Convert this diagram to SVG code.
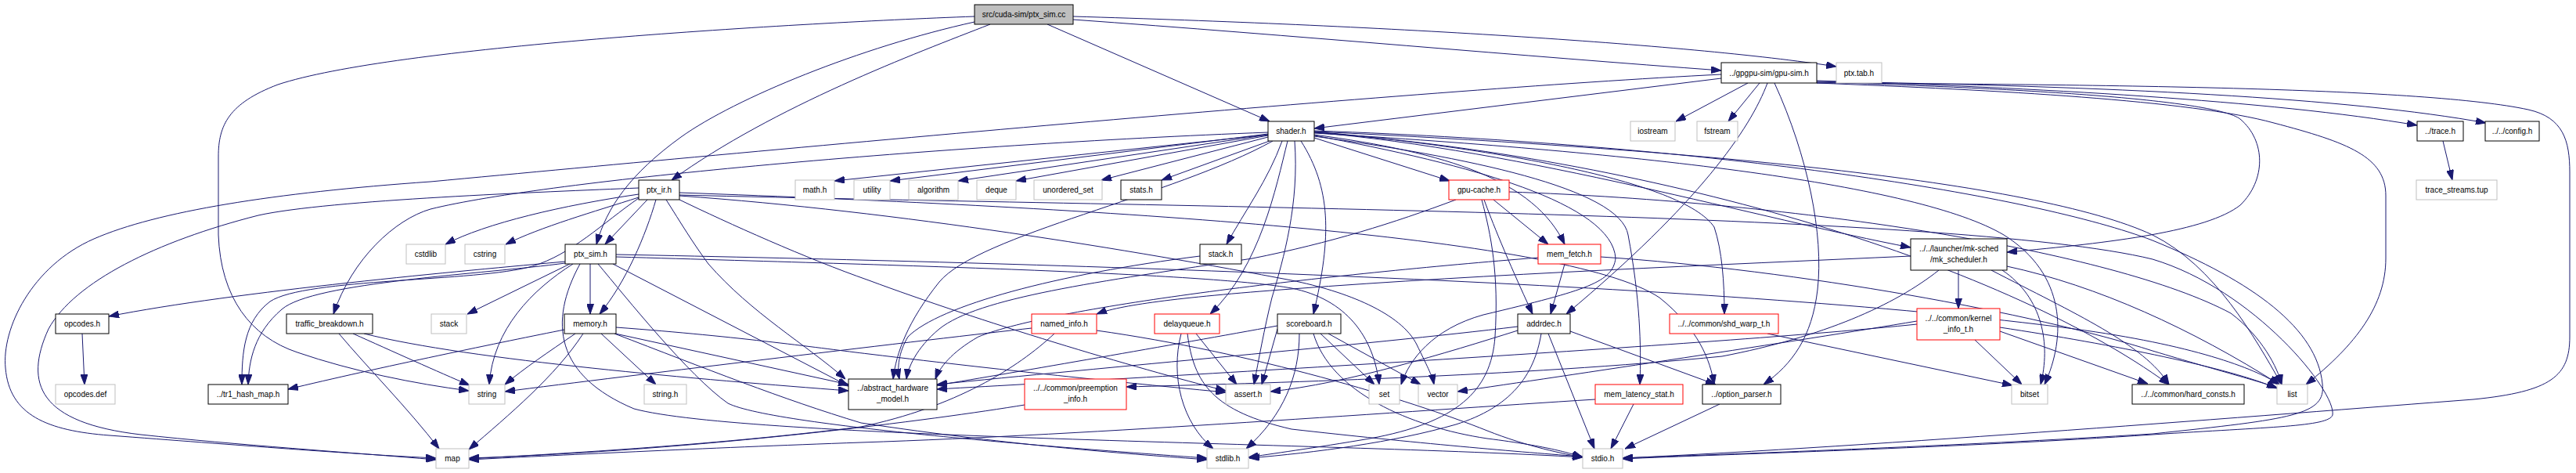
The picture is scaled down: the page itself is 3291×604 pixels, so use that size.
<svg xmlns="http://www.w3.org/2000/svg" width="3291" height="604" viewBox="0 0 3291 604">
<style>
rect{fill:#fff;stroke:#000;stroke-width:1}
.g rect{stroke:#bfbfbf}
.r rect{stroke:#ff0000}
.s rect{fill:#bfbfbf;stroke:#000}
text{font-family:"Liberation Sans",Arial,Helvetica,sans-serif;font-size:10px;text-anchor:middle;fill:#000}
#edges path{fill:none;stroke:#191970;stroke-width:1;marker-end:url(#a)}
</style>
<defs>
<marker id="a" viewBox="0 0 13 9" refX="13" refY="4.5" markerWidth="13" markerHeight="9" markerUnits="userSpaceOnUse" orient="auto"><path d="M0,0L13,4.5L0,9z" fill="#191970" stroke="#191970" stroke-width="1"/></marker>
</defs>
<rect x="0" y="0" width="3291" height="604" style="stroke:none;fill:#fff"/>
<g id="edges">
<path d="M1371,25 C1650,45 1950,72 2199,90"/>
<path d="M1371,21 C1750,32 2150,55 2346,85"/>
<path d="M1338,31 L1622,155"/>
<path d="M1265,31 C1170,68 990,135 858,230"/>
<path d="M1245,28 C1100,60 940,125 870,175 C805,222 775,265 762,312"/>
<path d="M1245,21 C1000,30 500,60 355,108 C292,132 279,160 279,200 L279,300 C282,380 320,430 380,450 C450,474 530,490 599,499"/>
<path d="M2233,106 L2141,155"/>
<path d="M2248,106 L2208,155"/>
<path d="M2199,100 L1679,164"/>
<path d="M2199,95 C1800,115 1000,190 550,232 C350,246 200,270 120,305 C40,340 2,420 7,470 C12,530 60,550 140,556 C300,568 450,580 557,585"/>
<path d="M2258,106 C2236,165 2170,260 2001,401"/>
<path d="M2267,106 C2310,200 2330,300 2322,370 C2315,430 2290,465 2253,491"/>
<path d="M2321,103 C2600,112 2900,128 3088,160"/>
<path d="M2321,104 C2700,110 3000,125 3176,157"/>
<path d="M2321,106 C2550,115 2800,128 2905,157 C3000,182 3048,200 3048,250 L3048,330 C3048,390 3010,440 2946,491"/>
<path d="M2321,105 C2600,113 2830,128 2862,152 C2895,180 2895,230 2862,262 C2820,295 2700,310 2564,322"/>
<path d="M2321,106 C2700,108 3100,112 3230,140 C3275,150 3283,180 3283,220 L3283,430 C3283,480 3260,500 3160,510 C2900,530 2400,570 2073,585"/>
<path d="M3121,180 L3133,230"/>
<path d="M1620,172 L1066,231"/>
<path d="M1620,171 L1137,231"/>
<path d="M1620,172 L1224,231"/>
<path d="M1620,173 L1298,231"/>
<path d="M1620,175 L1407,230"/>
<path d="M1622,180 L1484,230"/>
<path d="M1679,176 L1852,231"/>
<path d="M1638,180 C1620,230 1590,270 1567,312"/>
<path d="M1645,180 C1630,240 1610,340 1546,401"/>
<path d="M1654,180 C1660,260 1640,330 1625,380 C1615,420 1608,460 1602,491"/>
<path d="M1662,180 C1700,240 1702,300 1678,401"/>
<path d="M1626,180 C1500,250 1250,300 1200,360 C1160,410 1145,450 1141,484"/>
<path d="M1679,172 C1850,195 1960,230 1999,312"/>
<path d="M1620,169 C1200,185 700,230 550,267 C505,280 450,330 426,401"/>
<path d="M1679,168 C1900,188 2150,230 2190,290 C2200,320 2203,360 2203,401"/>
<path d="M1679,169 C1950,192 2250,280 2441,316"/>
<path d="M1679,170 C2100,195 2450,235 2560,300 C2640,350 2640,430 2612,491"/>
<path d="M1679,168 C2150,190 2600,230 2750,300 C2830,340 2880,430 2915,491"/>
<path d="M1679,169 C2100,200 2550,330 2771,491"/>
<path d="M1679,167 C2200,185 2600,250 2750,307 C2880,360 2960,420 2967,490 C2972,530 2930,535 2750,554 C2500,570 2200,580 2073,585"/>
<path d="M1679,174 C1870,200 2070,240 2080,300 C2095,380 2097,440 2095,491"/>
<path d="M1679,173 C1880,210 2060,260 2064,330 C2060,360 2030,370 1895,402 C1830,420 1800,460 1790,491"/>
<path d="M816,248 C720,262 620,285 569,312"/>
<path d="M816,252 C760,270 690,290 646,312"/>
<path d="M827,255 L773,312"/>
<path d="M838,255 C825,300 800,360 766,401"/>
<path d="M816,253 C770,285 730,325 680,340 C610,360 390,355 345,385 C312,410 309,450 309,491"/>
<path d="M816,240 C700,245 420,255 330,275 C200,308 95,360 62,420 C30,490 50,540 180,555 C300,568 450,578 557,587"/>
<path d="M851,255 C870,285 885,310 905,337 C960,400 1030,440 1080,484"/>
<path d="M868,255 C930,285 1030,330 1110,358 C1250,410 1450,470 1566,499"/>
<path d="M868,250 C1150,270 1450,320 1650,358 C1720,372 1790,400 1810,440 C1822,465 1830,480 1832,491"/>
<path d="M868,246 C1400,265 2000,300 2120,380 C2170,420 2185,460 2190,491"/>
<path d="M868,249 C1500,265 2500,270 2750,331 C2880,370 2985,500 2980,530 C2975,545 2900,545 2750,555 C2500,572 2200,580 2073,586"/>
<path d="M722,334 C600,345 300,372 139,404"/>
<path d="M722,336 C620,350 400,360 360,395 C325,425 318,460 317,491"/>
<path d="M728,337 L597,401"/>
<path d="M754,337 L754,401"/>
<path d="M732,337 C680,370 630,420 625,491"/>
<path d="M783,337 L1084,493"/>
<path d="M764,337 C800,380 880,480 930,515 C990,545 1400,575 1542,585"/>
<path d="M741,337 C700,412 710,480 810,522 C950,560 1700,565 2022,584"/>
<path d="M787,325 C1300,335 2200,360 2650,420 C2800,440 2880,470 2912,491"/>
<path d="M787,328 C1200,340 1550,350 1650,368 C1720,382 1755,430 1762,491"/>
<path d="M721,421 C650,435 480,470 368,497"/>
<path d="M735,426 C700,450 670,470 645,491"/>
<path d="M745,426 C710,480 650,530 599,574"/>
<path d="M768,426 L838,491"/>
<path d="M786,426 L1084,491"/>
<path d="M787,418 C950,430 1050,445 1110,452 C1300,475 1450,490 1566,501"/>
<path d="M785,426 C900,470 1000,510 1100,540 C1300,570 1450,580 1542,587"/>
<path d="M433,426 C470,470 520,520 561,573"/>
<path d="M451,426 C500,448 560,475 600,492"/>
<path d="M465,426 C600,460 900,485 1084,499"/>
<path d="M105,426 L108,491"/>
<path d="M1533,327 C1350,350 1200,390 1160,430 C1148,450 1146,470 1149,484"/>
<path d="M1318,419 C1200,432 800,480 645,500"/>
<path d="M1347,426 C1300,470 1220,520 1100,545 C900,570 700,580 599,586"/>
<path d="M1401,422 C1600,450 1800,510 1900,550 C1950,570 2000,580 2022,584"/>
<path d="M1528,426 L1580,491"/>
<path d="M1509,426 C1495,480 1510,540 1550,573"/>
<path d="M1517,426 C1525,490 1550,525 1650,548 C1800,565 1950,578 2022,583"/>
<path d="M1687,426 L1756,491"/>
<path d="M1697,426 L1815,491"/>
<path d="M1678,426 C1700,500 1800,545 1900,560 C1980,570 2010,580 2022,584"/>
<path d="M1632,420 L1612,491"/>
<path d="M1660,426 C1660,480 1640,530 1592,573"/>
<path d="M1632,416 C1500,440 1300,475 1197,492"/>
<path d="M1939,417 C1750,440 1400,470 1197,491"/>
<path d="M1939,422 C1850,450 1720,490 1623,500"/>
<path d="M1969,426 C1960,480 1930,520 1860,542 C1780,565 1680,578 1596,585"/>
<path d="M1978,426 L2037,573"/>
<path d="M2006,423 L2192,491"/>
<path d="M1999,337 L1981,401"/>
<path d="M1965,329 C1700,350 1350,390 1250,430 C1215,450 1200,470 1195,484"/>
<path d="M2045,328 C2300,345 2600,400 2750,448 C2840,475 2880,485 2909,495"/>
<path d="M1908,255 L1978,312"/>
<path d="M1896,255 C1905,280 1925,330 1958,401"/>
<path d="M1893,255 C1905,300 1915,350 1910,430 C1905,500 1860,540 1750,560 C1680,572 1620,580 1595,584"/>
<path d="M1860,255 C1780,285 1700,310 1600,330 C1400,360 1250,380 1200,420 C1170,445 1160,470 1158,484"/>
<path d="M1928,245 C2300,258 2700,320 2850,400 C2890,430 2910,470 2915,491"/>
<path d="M2502,345 L2502,394"/>
<path d="M2558,345 C2610,380 2620,440 2607,491"/>
<path d="M2544,345 C2650,400 2740,440 2771,491"/>
<path d="M2564,340 C2680,365 2800,420 2912,491"/>
<path d="M2477,345 C2420,390 2330,430 2200,455 C1950,480 1600,490 1439,494"/>
<path d="M2441,327 C2200,338 1900,350 1650,369 C1500,380 1430,390 1401,401"/>
<path d="M2523,434 L2583,491"/>
<path d="M2555,423 L2744,490"/>
<path d="M2555,418 C2700,440 2850,470 2909,496"/>
<path d="M2449,410 C2300,435 2000,480 1862,500"/>
<path d="M2449,414 C2200,440 1500,480 1197,497"/>
<path d="M2258,426 L2571,492"/>
<path d="M2087,516 L2058,573"/>
<path d="M2038,510 C1800,525 1400,555 1100,565 C900,572 700,582 599,587"/>
<path d="M2197,516 L2076,573"/>
<path d="M1309,517 C1200,535 900,575 599,585"/>
</g>
<g id="n_src" class="s"><rect x="1245" y="6" width="126" height="25"/><text x="1308" y="22">src/cuda-sim/ptx_sim.cc</text></g>
<g id="n_gpusim"><rect x="2199" y="80" width="122" height="26"/><text x="2260" y="96.5">../gpgpu-sim/gpu-sim.h</text></g>
<g id="n_ptxtab" class="g"><rect x="2346" y="80" width="58" height="26"/><text x="2375" y="96.5">ptx.tab.h</text></g>
<g id="n_shader"><rect x="1620" y="155" width="59" height="25"/><text x="1649.5" y="171">shader.h</text></g>
<g id="n_iostream" class="g"><rect x="2083" y="155" width="57" height="25"/><text x="2111.5" y="171">iostream</text></g>
<g id="n_fstream" class="g"><rect x="2168" y="155" width="52" height="25"/><text x="2194" y="171">fstream</text></g>
<g id="n_trace"><rect x="3088" y="155" width="59" height="25"/><text x="3117.5" y="171">../trace.h</text></g>
<g id="n_config"><rect x="3175" y="155" width="69" height="25"/><text x="3209.5" y="171">../../config.h</text></g>
<g id="n_ptxir"><rect x="816" y="230" width="52" height="25"/><text x="842" y="246">ptx_ir.h</text></g>
<g id="n_math" class="g"><rect x="1016" y="230" width="50" height="25"/><text x="1041" y="246">math.h</text></g>
<g id="n_utility" class="g"><rect x="1091" y="230" width="46" height="25"/><text x="1114" y="246">utility</text></g>
<g id="n_algorithm" class="g"><rect x="1161" y="230" width="63" height="25"/><text x="1192.5" y="246">algorithm</text></g>
<g id="n_deque" class="g"><rect x="1248" y="230" width="50" height="25"/><text x="1273" y="246">deque</text></g>
<g id="n_unordered" class="g"><rect x="1321" y="230" width="87" height="25"/><text x="1364.5" y="246">unordered_set</text></g>
<g id="n_stats"><rect x="1432" y="230" width="52" height="25"/><text x="1458" y="246">stats.h</text></g>
<g id="n_gpucache" class="r"><rect x="1851" y="230" width="77" height="25"/><text x="1889.5" y="246">gpu-cache.h</text></g>
<g id="n_tracestreams" class="g"><rect x="3087" y="230" width="103" height="25"/><text x="3138.5" y="246">trace_streams.tup</text></g>
<g id="n_cstdlib" class="g"><rect x="519" y="312" width="50" height="25"/><text x="544" y="328">cstdlib</text></g>
<g id="n_cstring" class="g"><rect x="594" y="312" width="51" height="25"/><text x="619.5" y="328">cstring</text></g>
<g id="n_ptxsimh"><rect x="722" y="312" width="65" height="25"/><text x="754.5" y="328">ptx_sim.h</text></g>
<g id="n_stackh"><rect x="1533" y="312" width="53" height="25"/><text x="1559.5" y="328">stack.h</text></g>
<g id="n_memfetch" class="r"><rect x="1965" y="312" width="80" height="25"/><text x="2005" y="328">mem_fetch.h</text></g>
<g id="n_mksched"><rect x="2441" y="305" width="123" height="40"/><text x="2502.5" y="321">../../launcher/mk-sched</text><text x="2502.5" y="335">/mk_scheduler.h</text></g>
<g id="n_opcodes"><rect x="71" y="401" width="68" height="25"/><text x="105" y="417">opcodes.h</text></g>
<g id="n_traffic"><rect x="366" y="401" width="110" height="25"/><text x="421" y="417">traffic_breakdown.h</text></g>
<g id="n_stack" class="g"><rect x="551" y="401" width="45" height="25"/><text x="573.5" y="417">stack</text></g>
<g id="n_memory"><rect x="721" y="401" width="66" height="25"/><text x="754" y="417">memory.h</text></g>
<g id="n_named" class="r"><rect x="1318" y="401" width="83" height="25"/><text x="1359.5" y="417">named_info.h</text></g>
<g id="n_delay" class="r"><rect x="1475" y="401" width="83" height="25"/><text x="1516.5" y="417">delayqueue.h</text></g>
<g id="n_scoreboard"><rect x="1632" y="401" width="81" height="25"/><text x="1672.5" y="417">scoreboard.h</text></g>
<g id="n_addrdec"><rect x="1939" y="401" width="67" height="25"/><text x="1972.5" y="417">addrdec.h</text></g>
<g id="n_shdwarp" class="r"><rect x="2133" y="401" width="139" height="25"/><text x="2202.5" y="417">../../common/shd_warp_t.h</text></g>
<g id="n_kernelinfo" class="r"><rect x="2449" y="394" width="106" height="40"/><text x="2502" y="410">../../common/kernel</text><text x="2502" y="424">_info_t.h</text></g>
<g id="n_opcodesdef" class="g"><rect x="71" y="491" width="76" height="25"/><text x="109" y="507">opcodes.def</text></g>
<g id="n_tr1"><rect x="266" y="491" width="102" height="25"/><text x="317" y="507">../tr1_hash_map.h</text></g>
<g id="n_string" class="g"><rect x="599" y="491" width="46" height="25"/><text x="622" y="507">string</text></g>
<g id="n_stringh" class="g"><rect x="823" y="491" width="54" height="25"/><text x="850" y="507">string.h</text></g>
<g id="n_ahm"><rect x="1084" y="484" width="113" height="39"/><text x="1140.5" y="499">../abstract_hardware</text><text x="1140.5" y="513">_model.h</text></g>
<g id="n_preempt" class="r"><rect x="1309" y="484" width="130" height="39"/><text x="1374" y="499">../../common/preemption</text><text x="1374" y="513">_info.h</text></g>
<g id="n_assert" class="g"><rect x="1566" y="491" width="57" height="25"/><text x="1594.5" y="507">assert.h</text></g>
<g id="n_set" class="g"><rect x="1749" y="491" width="39" height="25"/><text x="1768.5" y="507">set</text></g>
<g id="n_vector" class="g"><rect x="1812" y="491" width="50" height="25"/><text x="1837" y="507">vector</text></g>
<g id="n_memlat" class="r"><rect x="2038" y="491" width="112" height="25"/><text x="2094" y="507">mem_latency_stat.h</text></g>
<g id="n_optparser"><rect x="2175" y="491" width="100" height="25"/><text x="2225" y="507">../option_parser.h</text></g>
<g id="n_bitset" class="g"><rect x="2570" y="491" width="46" height="25"/><text x="2593" y="507">bitset</text></g>
<g id="n_hardconsts"><rect x="2724" y="491" width="143" height="25"/><text x="2795.5" y="507">../../common/hard_consts.h</text></g>
<g id="n_list" class="g"><rect x="2909" y="491" width="39" height="25"/><text x="2928.5" y="507">list</text></g>
<g id="n_map" class="g"><rect x="557" y="573" width="42" height="25"/><text x="578" y="589">map</text></g>
<g id="n_stdlib" class="g"><rect x="1542" y="573" width="53" height="25"/><text x="1568.5" y="589">stdlib.h</text></g>
<g id="n_stdio" class="g"><rect x="2022" y="573" width="51" height="25"/><text x="2047.5" y="589">stdio.h</text></g>
</svg>
